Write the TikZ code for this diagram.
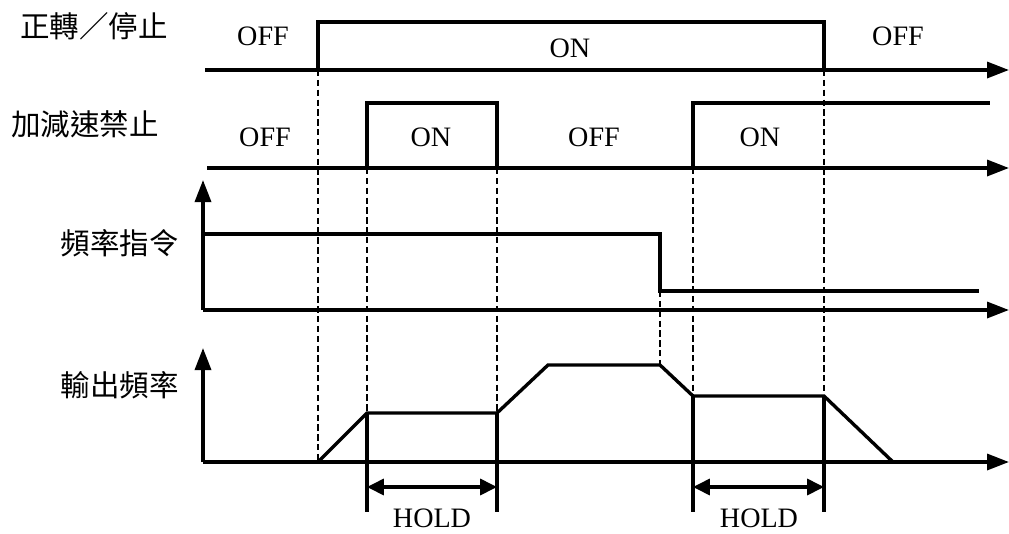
\documentclass[tikz,border=0pt]{standalone}
\usepackage{fontspec}
\setmainfont{Liberation Serif}
\newfontfamily\cjk{Noto Sans CJK TC}
\usetikzlibrary{arrows.meta}

\begin{document}
\begin{tikzpicture}[
  x=0.025cm, y=-0.025cm,
  sig/.style={line width=2.4pt, line join=miter},
  axis/.style={sig, -{Triangle[length=0.55cm,width=0.4cm]}},
  hold/.style={line width=2.2pt, {Triangle[length=0.42cm,width=0.4cm]}-{Triangle[length=0.42cm,width=0.4cm]}},
  guide/.style={line width=1.8pt, dash pattern=on 4.5pt off 2.5pt},
  state/.style={font=\fontsize{20}{22}\selectfont, inner sep=0pt},
  signame/.style={font=\cjk\fontsize{21}{23}\selectfont, inner sep=0pt}
]
\useasboundingbox (0,0) rectangle (1009,534);

% --- time instants ---
\coordinate (t1) at (318,0);
\coordinate (t2) at (367,0);
\coordinate (t3) at (497,0);
\coordinate (t4) at (660,0);
\coordinate (t5) at (693,0);
\coordinate (t6) at (824,0);

% --- signal names ---
\node[signame] (n1) at (94,26)  {正轉／停止};
\node[signame] (n2) at (85,124) {加減速禁止};
\node[signame] (n3) at (120,243) {頻率指令};
\node[signame] (n4) at (120,385) {輸出頻率};

% --- Row 1: run / stop ---
\draw[axis] (205,70) -- (1009,70);
\draw[sig] (318,70) -- (318,22) -- (824,22) -- (824,70);
\node[state] (s1a) at (263,36) {OFF};
\node[state] (s1b) at (570,48) {ON};
\node[state] (s1c) at (898,36) {OFF};

% --- Row 2: accel/decel hold ---
\draw[axis] (207,168) -- (1009,168);
\draw[sig] (367,168) -- (367,103) -- (497,103) -- (497,168);
\draw[sig] (693,168) -- (693,103) -- (990,103);
\node[state] (s2a) at (265,137) {OFF};
\node[state] (s2b) at (431,137) {ON};
\node[state] (s2c) at (594,137) {OFF};
\node[state] (s2d) at (760,137) {ON};

% --- Row 3: frequency command ---
\draw[axis] (203,310) -- (203,180);
\draw[axis] (203,310) -- (1009,310);
\draw[sig] (203,234) -- (660,234) -- (660,291) -- (979,291);

% --- Row 4: output frequency ---
\draw[axis] (203,462) -- (203,348);
\draw[axis] (203,462) -- (1009,462);
\draw[sig] (318,462) -- (367,413) -- (497,413) -- (548,365) -- (660,365)
  -- (693,396) -- (824,396) -- (893,462);

% --- dashed guides ---
\draw[guide] (318,70) -- (318,462);
\draw[guide] (367,168) -- (367,413);
\draw[guide] (497,168) -- (497,413);
\draw[guide] (660,291) -- (660,365);
\draw[guide] (693,168) -- (693,396);
\draw[guide] (824,70) -- (824,396);

% --- HOLD spans ---
\draw[sig] (367,413) -- (367,512);
\draw[sig] (497,413) -- (497,512);
\draw[sig] (693,396) -- (693,512);
\draw[sig] (824,396) -- (824,512);
\draw[hold] (367,487) -- (497,487);
\draw[hold] (693,487) -- (824,487);
\node[state] (h1) at (432,518) {HOLD};
\node[state] (h2) at (759,518) {HOLD};

\end{tikzpicture}
\end{document}
